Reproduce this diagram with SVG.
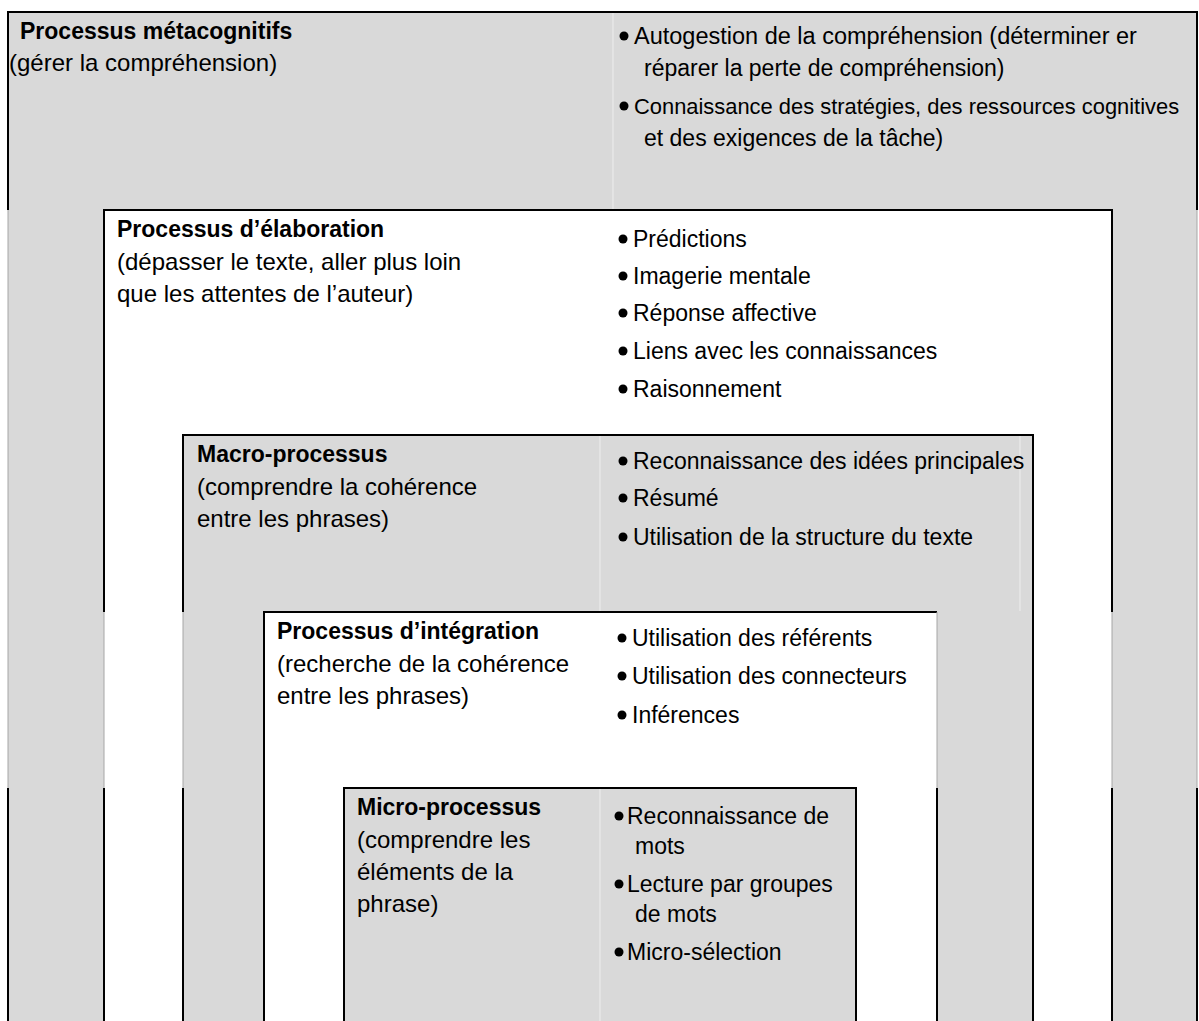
<svg xmlns="http://www.w3.org/2000/svg" width="1199" height="1021" viewBox="0 0 1199 1021">
<style>
text{font-family:"Liberation Sans",Arial,sans-serif;fill:#000}
.t{font-weight:bold;font-size:23px}
.s{font-size:24px}
.b{font-size:23px}
.gray{fill:#d9d9d9}
.white{fill:#ffffff}
.bd{stroke:#000;stroke-width:2;fill:none}
.lt{stroke:#a6a6a6;stroke-width:1;fill:none}
.cell{stroke:#eeeeee;stroke-width:1;fill:none}
</style>
<rect x="0" y="0" width="1199" height="1021" fill="#ffffff"/>

<g id="metacognitifs">
<rect class="gray" x="8" y="12" width="1189" height="1015"/>
<line class="cell" x1="613" y1="13" x2="613" y2="210"/>
<path class="bd" d="M8,1021 V788 M8,210 V12 H1197 V210 M1197,788 V1021"/>
<path class="lt" d="M8,210 V788 M1197,210 V788"/>
<text class="t" x="20" y="39">Processus métacognitifs</text>
<text class="s" x="9" y="71">(gérer la compréhension)</text>
<circle cx="624" cy="36" r="4.5"/>
<text class="b" x="634" y="44" style="font-size:23.5px">Autogestion de la compréhension (déterminer er</text>
<text class="b" x="644" y="76">réparer la perte de compréhension)</text>
<circle cx="624" cy="106" r="4.5"/>
<text class="b" x="634" y="114" style="font-size:21.9px">Connaissance des stratégies, des ressources cognitives</text>
<text class="b" x="644" y="146">et des exigences de la tâche)</text>
</g>

<g id="elaboration">
<rect class="white" x="104" y="210" width="1008" height="815"/>
<path class="bd" d="M104,612 V210 H1112 V612 M104,788 V1021 M1112,788 V1021"/>
<path class="lt" d="M104,612 V788 M1112,612 V788"/>
<text class="t" x="117" y="237">Processus d’élaboration</text>
<text class="s" x="117" y="270">(dépasser le texte, aller plus loin</text>
<text class="s" x="117" y="302">que les attentes de l’auteur)</text>
<circle cx="623" cy="239" r="4.5"/>
<text class="b" x="633" y="247">Prédictions</text>
<circle cx="623" cy="276" r="4.5"/>
<text class="b" x="633" y="284">Imagerie mentale</text>
<circle cx="623" cy="313" r="4.5"/>
<text class="b" x="633" y="321">Réponse affective</text>
<circle cx="623" cy="351" r="4.5"/>
<text class="b" x="633" y="359">Liens avec les connaissances</text>
<circle cx="623" cy="389" r="4.5"/>
<text class="b" x="633" y="397">Raisonnement</text>
</g>

<g id="macro">
<rect class="gray" x="183" y="435" width="850" height="590"/>
<line class="cell" x1="1020" y1="436" x2="1020" y2="611"/>
<line class="cell" x1="600" y1="436" x2="600" y2="611"/>
<path class="bd" d="M183,612 V435 H1033 V1021 M183,788 V1021"/>
<path class="lt" d="M183,612 V788"/>
<text class="t" x="197" y="462">Macro-processus</text>
<text class="s" x="197" y="495">(comprendre la cohérence</text>
<text class="s" x="197" y="527">entre les phrases)</text>
<circle cx="623" cy="461" r="4.5"/>
<text class="b" x="633" y="469">Reconnaissance des idées principales</text>
<circle cx="623" cy="498" r="4.5"/>
<text class="b" x="633" y="506">Résumé</text>
<circle cx="623" cy="537" r="4.5"/>
<text class="b" x="633" y="545">Utilisation de la structure du texte</text>
</g>

<g id="integration">
<rect class="white" x="264" y="612" width="673" height="413"/>
<path class="bd" d="M264,1021 V612 H937 M937,788 V1021"/>
<path class="lt" d="M937,612 V788"/>
<text class="t" x="277" y="639">Processus d’intégration</text>
<text class="s" x="277" y="672">(recherche de la cohérence</text>
<text class="s" x="277" y="704">entre les phrases)</text>
<circle cx="622" cy="638" r="4.5"/>
<text class="b" x="632" y="646">Utilisation des référents</text>
<circle cx="622" cy="676" r="4.5"/>
<text class="b" x="632" y="684">Utilisation des connecteurs</text>
<circle cx="622" cy="715" r="4.5"/>
<text class="b" x="632" y="723">Inférences</text>
</g>

<g id="micro">
<rect class="gray" x="344" y="788" width="512" height="237"/>
<line class="cell" x1="600" y1="789" x2="600" y2="1021"/>
<path class="bd" d="M344,1021 V788 H856 V1021"/>
<text class="t" x="357" y="815">Micro-processus</text>
<text class="s" x="357" y="848">(comprendre les</text>
<text class="s" x="357" y="880">éléments de la</text>
<text class="s" x="357" y="912">phrase)</text>
<circle cx="619" cy="816" r="4.5"/>
<text class="b" x="627" y="824">Reconnaissance de</text>
<text class="b" x="635" y="854">mots</text>
<circle cx="619" cy="884" r="4.5"/>
<text class="b" x="627" y="892">Lecture par groupes</text>
<text class="b" x="635" y="922">de mots</text>
<circle cx="619" cy="952" r="4.5"/>
<text class="b" x="627" y="960">Micro-sélection</text>
</g>

<g id="connectors"></g>
</svg>
